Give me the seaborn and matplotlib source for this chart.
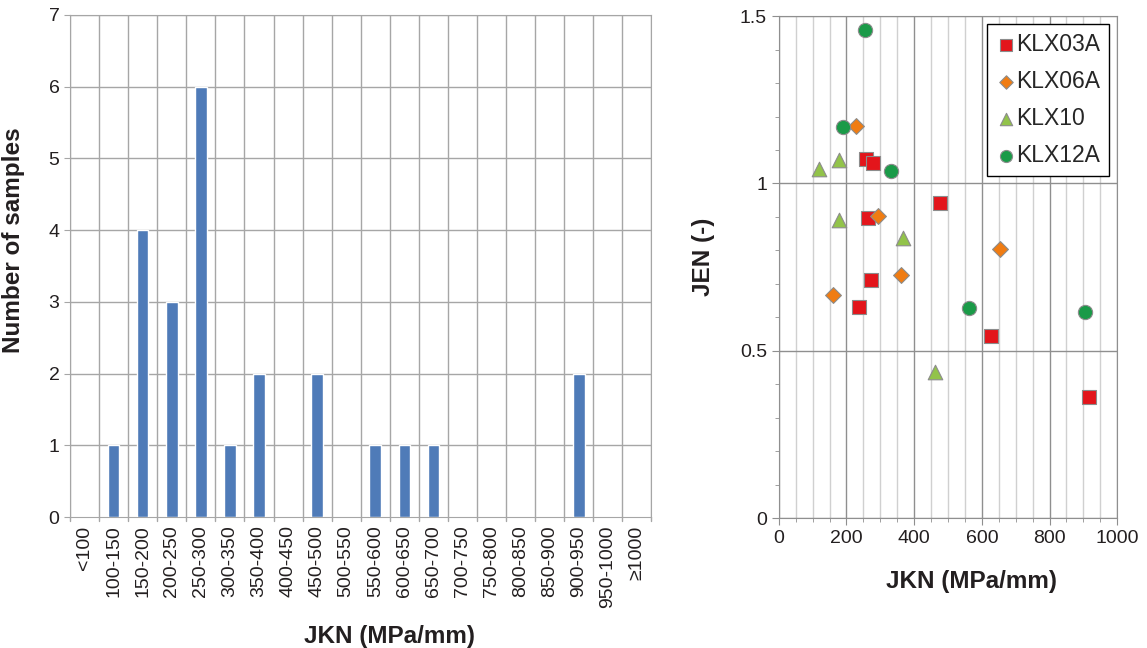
import numpy as np
import pandas as pd
import matplotlib
matplotlib.use("Agg")
import matplotlib.pyplot as plt
from matplotlib.ticker import MultipleLocator
import seaborn as sns

# histogram data
bins = ["<100", "100-150", "150-200", "200-250", "250-300", "300-350", "350-400",
        "400-450", "450-500", "500-550", "550-600", "600-650", "650-700", "700-750",
        "750-800", "800-850", "850-900", "900-950", "950-1000", "\u22651000"]
counts = [0, 1, 4, 3, 6, 1, 2, 0, 2, 0, 1, 1, 1, 0, 0, 0, 0, 2, 0, 0]

# scatter data (JKN, JEN) per borehole
klx03a_jkn = [258, 277, 476, 263, 273, 237, 628, 916]
klx03a_jen = [1.073, 1.062, 0.941, 0.898, 0.711, 0.630, 0.545, 0.363]
klx06a_jkn = [229, 294, 361, 653, 161]
klx06a_jen = [1.173, 0.903, 0.727, 0.805, 0.666]
klx10_jkn = [118, 178, 179, 366, 463]
klx10_jen = [1.044, 1.071, 0.890, 0.838, 0.435]
klx12a_jkn = [254, 191, 333, 561, 905]
klx12a_jen = [1.460, 1.168, 1.036, 0.627, 0.616]

sns.set_style("white")
plt.rcParams["font.family"] = ["Liberation Sans", "DejaVu Sans"]

fig = plt.figure(figsize=(11.47, 6.48), dpi=100)
ax1 = fig.add_axes([0.061, 0.202, 0.507, 0.775])
ax2 = fig.add_axes([0.679, 0.2006, 0.295, 0.7744])

grid_c = "#a6a6a6"
txt_c = "#231f20"

# ---- histogram
df_h = pd.DataFrame({"bin": bins, "n": counts})
sns.barplot(data=df_h, x="bin", y="n", color="#4f7bb8", saturation=1, width=0.4,
            ax=ax1, zorder=3)
ax1.set_xlim(-0.5, len(bins) - 0.5)
ax1.set_ylim(0, 7)
ax1.set_yticks(range(8))
ax1.set_xticks(np.arange(len(bins)))
ax1.set_xticklabels(bins, rotation=90, fontsize=14, color=txt_c)
ax1.tick_params(axis="x", length=0, pad=6)
ax1.tick_params(axis="y", labelsize=14, labelcolor=txt_c, length=4, color=grid_c, left=True)
for b in np.arange(-0.5, len(bins) + 0.5, 1):
    ax1.axvline(b, color=grid_c, lw=1, zorder=1)
    ax1.plot([b, b], [0, -0.05], color=grid_c, lw=1, clip_on=False)
for yv in range(1, 8):
    ax1.axhline(yv, color=grid_c, lw=1, zorder=1)
for s in ax1.spines.values():
    s.set_color(grid_c)
ax1.set_xlabel("JKN (MPa/mm)", fontsize=17.5, fontweight="bold", color=txt_c)
ax1.xaxis.set_label_coords(0.55, -0.215)
ax1.set_ylabel("Number of samples", fontsize=17.5, fontweight="bold", color=txt_c)
ax1.yaxis.set_label_coords(-0.078, 0.552)

# ---- scatter
rows = []
for name, xs, ys in [("KLX03A", klx03a_jkn, klx03a_jen), ("KLX06A", klx06a_jkn, klx06a_jen),
                     ("KLX10", klx10_jkn, klx10_jen), ("KLX12A", klx12a_jkn, klx12a_jen)]:
    for x, y in zip(xs, ys):
        rows.append({"JKN": x, "JEN": y, "hole": name})
df_s = pd.DataFrame(rows)
pal = {"KLX03A": "#e3151b", "KLX06A": "#f07c12", "KLX10": "#92c34a", "KLX12A": "#1a9a48"}
marks = {"KLX03A": "s", "KLX06A": "D", "KLX10": "^", "KLX12A": "o"}
sizes = {"KLX03A": 110, "KLX06A": 65, "KLX10": 110, "KLX12A": 105}
for name in pal:
    sub = df_s[df_s["hole"] == name]
    sns.scatterplot(data=sub, x="JKN", y="JEN", color=pal[name], marker=marks[name],
                    s=sizes[name], edgecolor="#8c8c8c", linewidth=0.8, label=name,
                    ax=ax2, zorder=4)
ax2.set_xlim(0, 1000)
ax2.set_ylim(0, 1.5)
ax2.xaxis.set_major_locator(MultipleLocator(200))
ax2.xaxis.set_minor_locator(MultipleLocator(50))
ax2.yaxis.set_major_locator(MultipleLocator(0.5))
ax2.yaxis.set_minor_locator(MultipleLocator(0.1))
ax2.set_yticks([0, 0.5, 1, 1.5])
ax2.set_yticklabels(["0", "0.5", "1", "1.5"])
ax2.grid(which="minor", axis="x", color="#d0d0d0", lw=1)
ax2.grid(which="major", axis="both", color="#8f8f8f", lw=1)
ax2.tick_params(which="both", bottom=True, left=True, color="#8f8f8f")
ax2.tick_params(which="major", length=5, labelsize=14, labelcolor=txt_c)
ax2.tick_params(which="minor", length=3)
for s in ax2.spines.values():
    s.set_color("#8f8f8f")
ax2.set_xlabel("JKN (MPa/mm)", fontsize=17.5, fontweight="bold", color=txt_c)
ax2.xaxis.set_label_coords(0.568, -0.103)
ax2.set_ylabel("JEN (-)", fontsize=17.5, fontweight="bold", color=txt_c)
ax2.yaxis.set_label_coords(-0.19, 0.52)
leg = ax2.legend(loc="upper right", fontsize=16.5, frameon=True, fancybox=False,
                 edgecolor="black", handletextpad=0.05, borderpad=0.4, labelspacing=0.6,
                 handlelength=0.8, markerscale=0.85, borderaxespad=0.35)
leg.get_frame().set_linewidth(1)
leg.get_frame().set_alpha(1)

fig.savefig("out.png", dpi=100)
